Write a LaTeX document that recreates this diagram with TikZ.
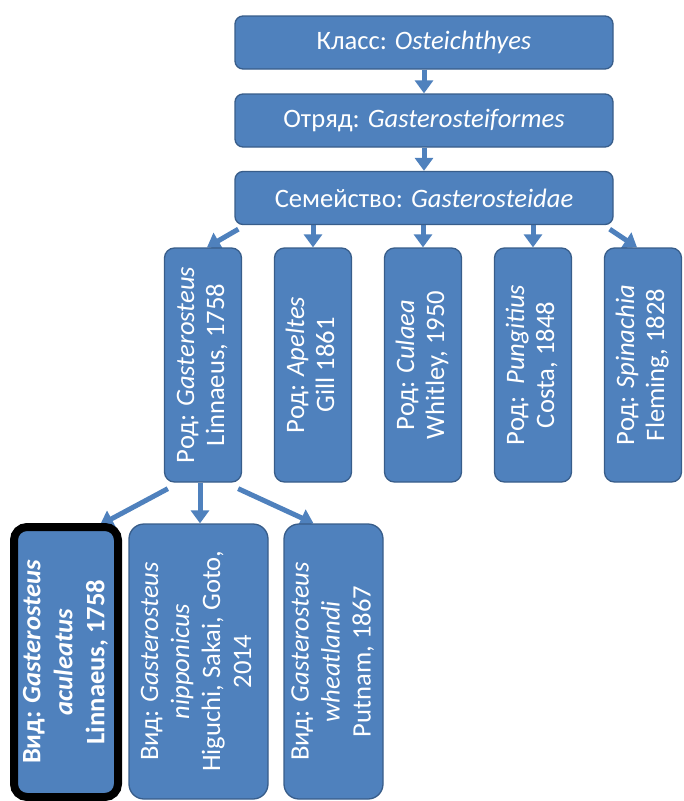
\documentclass[tikz,border=0pt]{standalone}
\usepackage{fontspec}
\setmainfont{Carlito}
\usetikzlibrary{arrows.meta}
\pgfdeclarelayer{bg}
\pgfsetlayers{bg,main}
\definecolor{boxblue}{HTML}{4F81BD}
\definecolor{boxedge}{HTML}{385D8A}
\newcommand{\rottext}[1]{\rotatebox{90}{\begin{tabular}{@{}c@{}}#1\end{tabular}}}
\begin{document}
\begin{tikzpicture}[x=1pt,y=-1pt,
  box/.style={draw=boxedge, line width=1.3pt, fill=boxblue, text=white,
    rounded corners=8pt, inner sep=0pt, font=\fontsize{26.6}{30}\selectfont},
  topbox/.style={box, minimum width=378pt, minimum height=53pt},
  genbox/.style={box, rounded corners=10pt, minimum width=77pt, minimum height=234pt},
  spbox/.style={box, rounded corners=15pt, minimum height=275pt, font=\fontsize{26.6}{31}\selectfont},
  conn/.style={draw=boxblue, line width=5pt, -{Triangle[width=18pt,length=13pt]}},
]
\useasboundingbox (0,0) rectangle (684,801);

\node[topbox] (c1) at (424,42.5) {Класс: \textit{Osteichthyes}};
\node[topbox] (c2) at (424,120.5) {Отряд: \textit{Gasterosteiformes}};
\node[topbox] (c3) at (424,198) {Семейство: \textit{Gasterosteidae}};

\node[genbox] (r1) at (203,365) {\rottext{Род: \textit{Gasterosteus}\\Linnaeus, 1758}};
\node[genbox] (r2) at (313,365) {\rottext{Род: \textit{Apeltes}\\Gill 1861}};
\node[genbox] (r3) at (423,365) {\rottext{Род: \textit{Culaea}\\Whitley, 1950}};
\node[genbox] (r4) at (533,365) {\rottext{Род:\ \ \textit{Pungitius}\\Costa, 1848}};
\node[genbox] (r5) at (643,365) {\rottext{Род: \textit{Spinachia}\\Fleming, 1828}};

\node[spbox, draw=black, line width=8pt, rounded corners=13pt, minimum width=104pt,
  minimum height=270pt, font=\fontsize{26.6}{32}\selectfont\bfseries] (sa) at (66,662)
  {\rottext{Вид: \textit{Gasterosteus}\\\textit{aculeatus}\\Linnaeus, 1758}};
\node[spbox, minimum width=139pt] (sb) at (198.5,661.5)
  {\rottext{Вид: \textit{Gasterosteus}\\\textit{nipponicus}\\Higuchi, Sakai, Goto,\\2014}};
\node[spbox, minimum width=99pt] (sc) at (333.5,661.5)
  {\rottext{Вид: \textit{Gasterosteus}\\\textit{wheatlandi}\\Putnam, 1867}};

\begin{pgfonlayer}{bg}
\draw[conn] (c1.south) -- (c2.north);
\draw[conn] (c2.south) -- (c3.north);
\draw[conn] ([xshift=4pt,yshift=-4pt]c3.south west) -- ([xshift=4pt]r1.north);
\draw[conn] (r2.north |- c3.south) -- (r2.north);
\draw[conn] (r3.north |- c3.south) -- (r3.north);
\draw[conn] (r4.north |- c3.south) -- (r4.north);
\draw[conn] ([xshift=-4pt,yshift=-4pt]c3.south east) -- ([xshift=-6pt]r5.north);
\draw[conn] ([xshift=4pt,yshift=-6pt]r1.south west) -- ([xshift=34pt,yshift=-2pt]sa.north);
\draw[conn] ([xshift=-3pt]r1.south) -- ([xshift=-3pt]r1.south |- sb.north);
\draw[conn] ([xshift=-4pt,yshift=-6pt]r1.south east) -- ([xshift=-20pt]sc.north);
\end{pgfonlayer}
\end{tikzpicture}
\end{document}
